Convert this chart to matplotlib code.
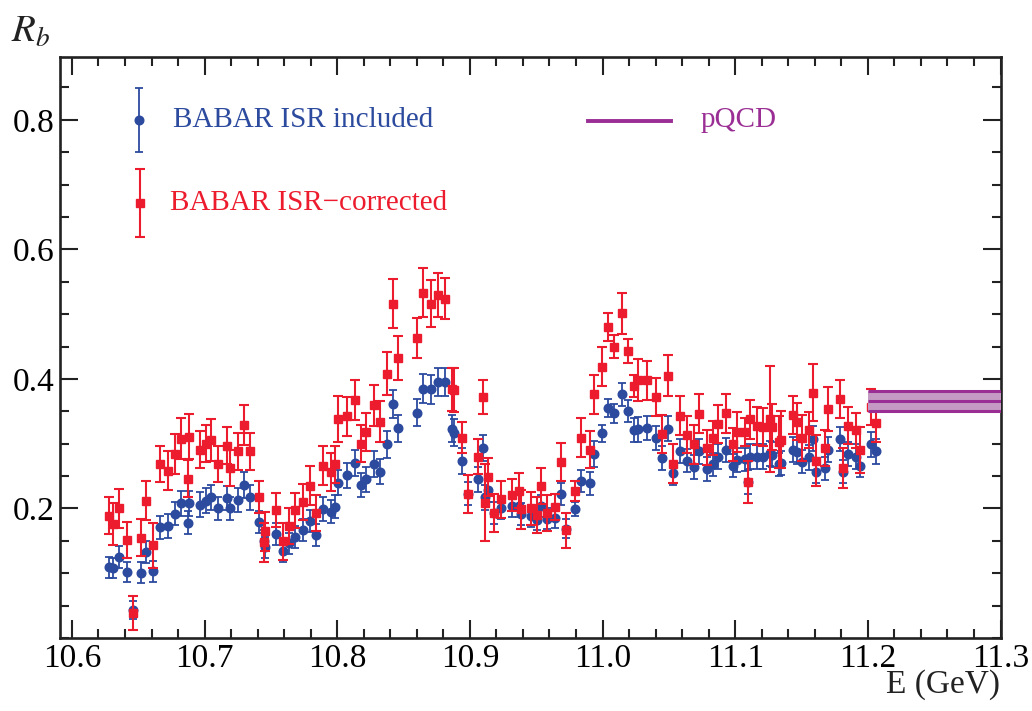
import matplotlib
matplotlib.use("Agg")
import matplotlib.pyplot as plt
from matplotlib.ticker import MultipleLocator, FixedLocator

# ---------------- data ----------------
energy = [10.6277, 10.6310, 10.6355, 10.6415, 10.6460, 10.6520, 10.6556, 10.6614, 10.6664, 10.6724,
          10.6775, 10.6822, 10.6875, 10.6886, 10.6966, 10.7010, 10.7046, 10.7100, 10.7167, 10.7190,
          10.7250, 10.7297, 10.7346, 10.7409, 10.7449, 10.7459, 10.7542, 10.7590, 10.7640, 10.7680,
          10.7740, 10.7793, 10.7840, 10.7890, 10.7951, 10.7982, 10.8005, 10.8077, 10.8135, 10.8178,
          10.8220, 10.8277, 10.8321, 10.8376, 10.8417, 10.8458, 10.8602, 10.8647, 10.8705, 10.8761,
          10.8811, 10.8862, 10.8882, 10.8942, 10.8987, 10.9058, 10.9097, 10.9112, 10.9133, 10.9183,
          10.9234, 10.9317, 10.9368, 10.9388, 10.9458, 10.9503, 10.9538, 10.9578, 10.9642, 10.9687,
          10.9728, 10.9791, 10.9837, 10.9902, 10.9937, 10.9993, 11.0043, 11.0088, 11.0148, 11.0194,
          11.0240, 11.0270, 11.0333, 11.0403, 11.0446, 11.0495, 11.0534, 11.0582, 11.0637, 11.0687,
          11.0725, 11.0785, 11.0830, 11.0873, 11.0931, 11.0981, 11.1016, 11.1071, 11.1094, 11.1114,
          11.1162, 11.1212, 11.1263, 11.1280, 11.1330, 11.1346, 11.1434, 11.1469, 11.1500, 11.1555,
          11.1585, 11.1610, 11.1678, 11.1700, 11.1789, 11.1814, 11.1848, 11.1910, 11.1944, 11.2020,
          11.2065]

rb_included = [0.109, 0.108, 0.125, 0.102, 0.043, 0.101, 0.133, 0.103, 0.171, 0.173,
               0.192, 0.208, 0.178, 0.208, 0.206, 0.212, 0.217, 0.200, 0.216, 0.200,
               0.213, 0.236, 0.217, 0.179, 0.150, 0.140, 0.161, 0.134, 0.146, 0.156,
               0.167, 0.180, 0.159, 0.199, 0.195, 0.203, 0.240, 0.251, 0.270, 0.236,
               0.245, 0.268, 0.257, 0.299, 0.361, 0.324, 0.348, 0.385, 0.384, 0.395,
               0.395, 0.323, 0.317, 0.273, 0.223, 0.245, 0.294, 0.217, 0.228, 0.193,
               0.200, 0.204, 0.204, 0.191, 0.189, 0.182, 0.204, 0.184, 0.186, 0.223,
               0.169, 0.199, 0.243, 0.239, 0.284, 0.316, 0.355, 0.347, 0.376, 0.350,
               0.321, 0.322, 0.324, 0.309, 0.278, 0.323, 0.254, 0.289, 0.274, 0.264,
               0.288, 0.261, 0.268, 0.280, 0.290, 0.266, 0.275, 0.276, 0.241, 0.280,
               0.280, 0.280, 0.285, 0.283, 0.268, 0.270, 0.291, 0.287, 0.272, 0.279,
               0.308, 0.257, 0.262, 0.291, 0.307, 0.257, 0.284, 0.280, 0.266, 0.299,
               0.288]

err_included = [0.016, 0.016, 0.017, 0.016, 0.014, 0.016, 0.017, 0.016, 0.018, 0.018,
                0.018, 0.019, 0.018, 0.019, 0.019, 0.019, 0.019, 0.018, 0.019, 0.018,
                0.019, 0.020, 0.019, 0.017, 0.016, 0.016, 0.017, 0.016, 0.016, 0.017,
                0.017, 0.017, 0.017, 0.018, 0.018, 0.018, 0.019, 0.019, 0.020, 0.019,
                0.019, 0.020, 0.019, 0.021, 0.022, 0.021, 0.021, 0.022, 0.022, 0.022,
                0.022, 0.021, 0.021, 0.020, 0.018, 0.019, 0.020, 0.019, 0.018, 0.017,
                0.017, 0.017, 0.017, 0.017, 0.017, 0.016, 0.017, 0.016, 0.016, 0.017,
                0.015, 0.011, 0.017, 0.018, 0.020, 0.013, 0.014, 0.015, 0.018, 0.017,
                0.019, 0.019, 0.019, 0.019, 0.018, 0.019, 0.018, 0.019, 0.018, 0.018,
                0.019, 0.018, 0.018, 0.019, 0.019, 0.018, 0.018, 0.018, 0.018, 0.019,
                0.019, 0.019, 0.019, 0.019, 0.018, 0.018, 0.019, 0.019, 0.018, 0.019,
                0.020, 0.018, 0.018, 0.019, 0.019, 0.018, 0.019, 0.019, 0.018, 0.019,
                0.019]

rb_corrected = [0.189, 0.176, 0.200, 0.151, 0.039, 0.155, 0.212, 0.143, 0.269, 0.258,
                0.284, 0.308, 0.246, 0.311, 0.291, 0.300, 0.306, 0.269, 0.297, 0.262,
                0.288, 0.329, 0.288, 0.218, 0.148, 0.165, 0.198, 0.149, 0.173, 0.197,
                0.210, 0.235, 0.193, 0.266, 0.256, 0.268, 0.338, 0.342, 0.368, 0.300,
                0.318, 0.359, 0.334, 0.408, 0.516, 0.433, 0.463, 0.533, 0.516, 0.530,
                0.524, 0.384, 0.383, 0.309, 0.222, 0.280, 0.372, 0.209, 0.249, 0.193,
                0.214, 0.221, 0.227, 0.199, 0.200, 0.190, 0.235, 0.193, 0.202, 0.272,
                0.166, 0.227, 0.309, 0.291, 0.376, 0.419, 0.480, 0.450, 0.501, 0.443,
                0.389, 0.398, 0.398, 0.372, 0.315, 0.405, 0.269, 0.343, 0.314, 0.299,
                0.346, 0.294, 0.309, 0.330, 0.347, 0.299, 0.318, 0.318, 0.241, 0.338,
                0.327, 0.326, 0.338, 0.326, 0.303, 0.306, 0.344, 0.334, 0.309, 0.321,
                0.379, 0.274, 0.293, 0.353, 0.369, 0.263, 0.328, 0.321, 0.290, 0.357,
                0.332]

err_corrected = [0.028, 0.032, 0.030, 0.028, 0.026, 0.028, 0.030, 0.035, 0.028, 0.030,
                 0.031, 0.031, 0.029, 0.035, 0.028, 0.029, 0.032, 0.028, 0.028, 0.028,
                 0.028, 0.031, 0.029, 0.025, 0.030, 0.030, 0.026, 0.028, 0.028, 0.027,
                 0.028, 0.030, 0.028, 0.030, 0.029, 0.029, 0.036, 0.030, 0.031, 0.029,
                 0.030, 0.031, 0.032, 0.033, 0.038, 0.034, 0.031, 0.038, 0.036, 0.034,
                 0.032, 0.033, 0.034, 0.024, 0.029, 0.027, 0.026, 0.059, 0.029, 0.030,
                 0.029, 0.025, 0.027, 0.030, 0.026, 0.028, 0.028, 0.028, 0.020, 0.029,
                 0.027, 0.015, 0.030, 0.028, 0.030, 0.030, 0.021, 0.018, 0.032, 0.018,
                 0.017, 0.032, 0.030, 0.030, 0.030, 0.032, 0.030, 0.030, 0.028, 0.030,
                 0.030, 0.027, 0.026, 0.029, 0.030, 0.025, 0.031, 0.022, 0.033, 0.030,
                 0.029, 0.029, 0.082, 0.035, 0.040, 0.044, 0.029, 0.029, 0.036, 0.028,
                 0.044, 0.040, 0.028, 0.034, 0.029, 0.031, 0.028, 0.027, 0.036, 0.028,
                 0.030]

pqcd_range = [11.2, 11.3]
pqcd_value = 0.366
pqcd_err = 0.015

label_included = "BABAR ISR included"
label_corrected = "BABAR ISR\u2212corrected"
label_pqcd = "pQCD"

# ---------------- style ----------------
plt.rcParams['font.family'] = ['Liberation Serif', 'DejaVu Serif']
plt.rcParams['mathtext.fontset'] = 'stix'

BLUE = '#2c4a9e'
RED = '#ec1c2e'
PURPLE = '#9a2e94'
PURPLE_FILL = '#c49ac4'

fig = plt.figure(figsize=(10.32, 7.11), dpi=100)
ax = fig.add_axes([60 / 1032, 73 / 711, 940.5 / 1032, 581 / 711])

ax.errorbar(energy, rb_included, yerr=err_included, fmt='o', color=BLUE,
            markersize=6.2, elinewidth=1.3, capsize=3, capthick=1.3, zorder=3)
ax.errorbar(energy, rb_corrected, yerr=err_corrected, fmt='s', color=RED,
            markersize=5.6, elinewidth=1.5, capsize=3.5, capthick=1.5, zorder=4)

# pQCD band
ax.fill_between(pqcd_range, [pqcd_value - pqcd_err] * 2, [pqcd_value + pqcd_err] * 2,
                color=PURPLE_FILL, lw=0, zorder=5)
for v in (pqcd_value - pqcd_err, pqcd_value, pqcd_value + pqcd_err):
    ax.plot(pqcd_range, [v, v], color=PURPLE, lw=2.2, zorder=6, solid_capstyle='butt')

ax.set_xlim(10.591, 11.3)
ax.set_ylim(0.0, 0.897)

ax.xaxis.set_major_locator(FixedLocator([10.6, 10.7, 10.8, 10.9, 11.0, 11.1, 11.2, 11.3]))
ax.xaxis.set_minor_locator(MultipleLocator(0.02))
ax.yaxis.set_major_locator(FixedLocator([0.2, 0.4, 0.6, 0.8]))
ax.yaxis.set_minor_locator(MultipleLocator(0.05))
ax.set_xticklabels(['10.6', '10.7', '10.8', '10.9', '11.0', '11.1', '11.2', '11.3'])
ax.set_yticklabels(['0.2', '0.4', '0.6', '0.8'])

ax.tick_params(which='both', direction='in', top=True, right=True, color='#222222')
ax.tick_params(which='major', length=13, width=1.5, labelsize=24, pad=4)
ax.tick_params(which='minor', length=6.5, width=1.5)
for s in ax.spines.values():
    s.set_linewidth(1.9)
    s.set_color('#222222')

# legend (drawn in axes-fraction coordinates)
ax.errorbar([0.084], [0.892], yerr=[0.055], fmt='o', color=BLUE, markersize=6.2,
            elinewidth=1.3, capsize=3, capthick=1.3, transform=ax.transAxes, clip_on=False)
ax.text(0.120, 0.892, label_included, color=BLUE, fontsize=21, va='center', ha='left',
        transform=ax.transAxes)
ax.errorbar([0.085], [0.749], yerr=[0.058], fmt='s', color=RED, markersize=5.6,
            elinewidth=1.5, capsize=3.5, capthick=1.5, transform=ax.transAxes, clip_on=False)
ax.text(0.117, 0.749, label_corrected, color=RED, fontsize=21, va='center', ha='left',
        transform=ax.transAxes)
ax.plot([0.561, 0.650], [0.890, 0.890], color=PURPLE, lw=2.8, transform=ax.transAxes)
ax.text(0.681, 0.892, label_pqcd, color=PURPLE, fontsize=21, va='center', ha='left',
        transform=ax.transAxes)

fig.text(0.011, 0.955, r'$R_b$', fontsize=28, va='center', ha='left', color='#222222')
fig.text(1000 / 1032, 0.037, 'E (GeV)', fontsize=24, va='center', ha='right', color='#222222')

fig.savefig('out.png', dpi=100)
